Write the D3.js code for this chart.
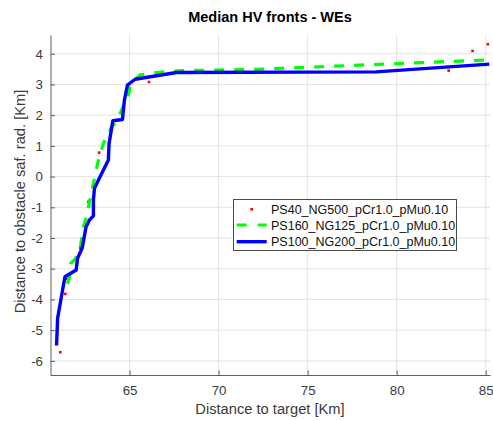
<!DOCTYPE html>
<html>
<head>
<meta charset="utf-8">
<script src="https://cdn.jsdelivr.net/npm/d3@7"></script>
<style>
  html, body { margin: 0; padding: 0; background: #fff; }
  svg { display: block; font-family: "Liberation Sans", Arial, Helvetica, sans-serif; }
</style>
</head>
<body>
<svg id="chart" width="493" height="421"></svg>
<script>
// ---- data ----
const seriesNames = ["PS40_NG500_pCr1.0_pMu0.10", "PS160_NG125_pCr1.0_pMu0.10", "PS100_NG200_pCr1.0_pMu0.10"];

const redX = [61.11, 61.39, 61.48, 62.23, 62.69, 63.29, 66.09, 67.92, 82.92, 84.26, 85.12];
const redY = [-5.72, -3.82, -3.33, -2.33, -0.82, 0.78, 3.08, 3.45, 3.45, 4.09, 4.31];

const greenX = [61.51, 61.63, 61.70, 61.95, 62.23, 62.41, 62.56, 62.75, 62.97, 63.25, 63.53, 64.00, 64.28, 64.56, 64.99, 65.03, 65.59, 66.52, 67.92, 72.03, 85.20];
const greenY = [-3.49, -3.26, -2.82, -2.69, -2.33, -1.63, -1.35, -0.82, -0.22, 0.54, 1.08, 1.62, 1.79, 2.17, 2.76, 2.98, 3.31, 3.39, 3.45, 3.49, 3.80];

const blueX = [60.90, 60.96, 61.37, 62.00, 62.08, 62.34, 62.56, 62.75, 62.97, 62.97, 63.03, 63.35, 63.81, 63.85, 64.06, 64.60, 64.71, 64.88, 65.31, 67.64, 78.85, 85.20];
const blueY = [-5.50, -4.61, -3.26, -3.04, -2.66, -2.33, -1.63, -1.41, -1.28, -0.76, -0.38, 0.00, 0.54, 1.08, 1.82, 1.86, 2.49, 2.98, 3.17, 3.39, 3.41, 3.66];

const xTicks = [65, 70, 75, 80, 85];
const yTicks = [-6, -5, -4, -3, -2, -1, 0, 1, 2, 3, 4];
const xDomain = [60.56, 85.24];
const yDomain = [-6.46, 4.61];

const titleText = "Median HV fronts - WEs";
const xLabelText = "Distance to target [Km]";
const yLabelText = "Distance to obstacle saf. rad. [Km]";

// ---- layout ----
const L = 50.5, R = 490, T = 35, B = 375;
const svg = d3.select("#chart");
const x = d3.scaleLinear().domain(xDomain).range([L, R]);
const y = d3.scaleLinear().domain(yDomain).range([B, T]);

const axisColor = "#5f5f5f";
const textColor = "#3a3a3a";
const gridColor = "#e3e3e3";

// grid
const grid = svg.append("g");
grid.selectAll("line.gx").data(xTicks).join("line")
  .attr("x1", d => x(d)).attr("x2", d => x(d)).attr("y1", T).attr("y2", B)
  .attr("stroke", gridColor).attr("stroke-width", 1);
grid.selectAll("line.gy").data(yTicks).join("line")
  .attr("x1", L).attr("x2", R).attr("y1", d => y(d)).attr("y2", d => y(d))
  .attr("stroke", gridColor).attr("stroke-width", 1);

// axes
const fmt = d => (d < 0 ? "-" + Math.abs(d) : String(d));
const xAxis = svg.append("g").attr("transform", `translate(0,${B})`)
  .call(d3.axisBottom(x).tickValues(xTicks).tickSize(-4.5).tickPadding(10.5).tickFormat(fmt).tickSizeOuter(0));
const yAxis = svg.append("g").attr("transform", `translate(${L},0)`)
  .call(d3.axisLeft(y).tickValues(yTicks).tickSize(-4.5).tickPadding(7.5).tickFormat(fmt).tickSizeOuter(0));
[xAxis, yAxis].forEach(g => {
  g.select(".domain").attr("stroke", axisColor).attr("stroke-width", 1);
  g.selectAll(".tick line").attr("stroke", axisColor).attr("stroke-width", 1);
  g.selectAll(".tick text").attr("fill", textColor).style("font-size", "13.3px")
    .style("font-family", '"Liberation Sans", Arial, sans-serif');
});

// data series
const line = d3.line().x(d => x(d[0])).y(d => y(d[1]));
const redPts = redX.map((v, i) => [v, redY[i]]);
const greenPts = greenX.map((v, i) => [v, greenY[i]]);
const bluePts = blueX.map((v, i) => [v, blueY[i]]);

svg.append("g").selectAll("rect").data(redPts).join("rect")
  .attr("x", d => x(d[0]) - 1.3).attr("y", d => y(d[1]) - 1.3)
  .attr("width", 2.6).attr("height", 2.6).attr("fill", "#ff0000");

svg.append("path").datum(greenPts).attr("d", line)
  .attr("fill", "none").attr("stroke", "#00ff00").attr("stroke-width", 3.2)
  .attr("stroke-dasharray", "10,10").attr("stroke-linejoin", "round");

svg.append("path").datum(bluePts).attr("d", line)
  .attr("fill", "none").attr("stroke", "#0000ff").attr("stroke-width", 3.4)
  .attr("stroke-linejoin", "round");

// title & labels
svg.append("text").attr("x", 270).attr("y", 22).attr("text-anchor", "middle")
  .style("font-size", "14.5px").style("font-weight", "bold").attr("fill", "#000")
  .text(titleText);
svg.append("text").attr("x", 270).attr("y", 414).attr("text-anchor", "middle")
  .style("font-size", "14.7px").attr("fill", textColor).text(xLabelText);
svg.append("text").attr("transform", "translate(25,201.5) rotate(-90)").attr("text-anchor", "middle")
  .style("font-size", "14.7px").attr("fill", textColor).text(yLabelText);

// legend
const lg = svg.append("g");
lg.append("rect").attr("x", 233.5).attr("y", 199.5).attr("width", 223).attr("height", 51)
  .attr("fill", "#fff").attr("stroke", "#4a4a4a").attr("stroke-width", 1);
const rows = [209.3, 225, 241.7];
const lx1 = 236.7, lx2 = 266.7, tx = 271;
lg.append("rect").attr("x", (lx1 + lx2) / 2 - 1.3).attr("y", rows[0] - 1.3)
  .attr("width", 2.6).attr("height", 2.6).attr("fill", "#ff0000");
lg.append("line").attr("x1", lx1).attr("x2", lx2).attr("y1", rows[1]).attr("y2", rows[1])
  .attr("stroke", "#00ff00").attr("stroke-width", 3.2).attr("stroke-dasharray", "10,11");
lg.append("line").attr("x1", lx1).attr("x2", lx2).attr("y1", rows[2]).attr("y2", rows[2])
  .attr("stroke", "#0000ff").attr("stroke-width", 3.4);
lg.selectAll("text").data(seriesNames).join("text")
  .attr("x", tx).attr("y", (d, i) => rows[i]).attr("dy", "0.36em")
  .style("font-size", "12.5px").attr("fill", "#111").text(d => d);
</script>
</body>
</html>
